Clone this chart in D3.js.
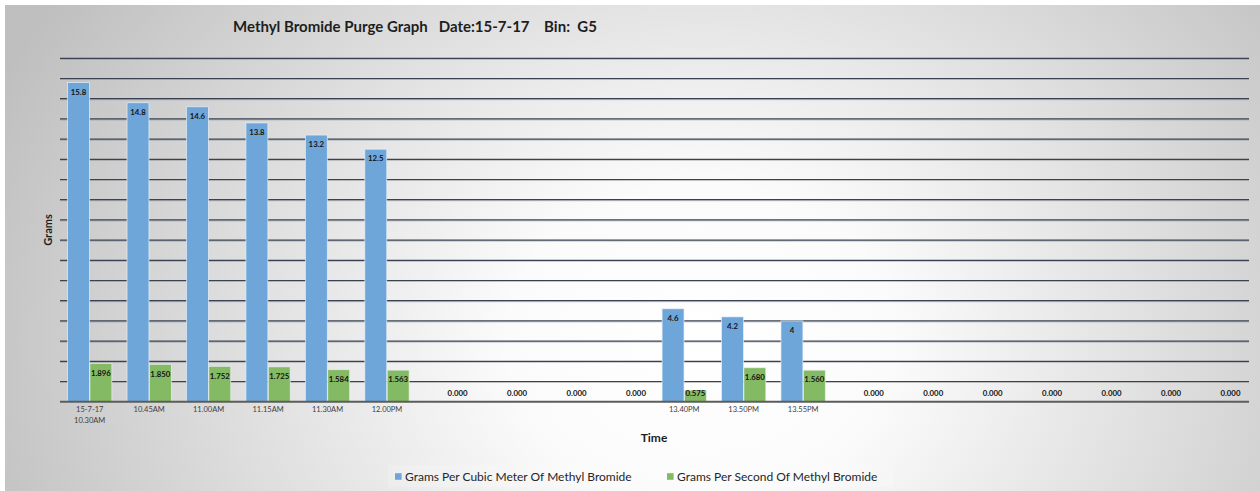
<!DOCTYPE html>
<html>
<head>
<meta charset="utf-8">
<script src="https://cdn.jsdelivr.net/npm/d3@7"></script>
<style>
  html, body { margin: 0; padding: 0; background: #fff; }
  text { font-family: Lato, 'Open Sans', sans-serif; }
</style>
</head>
<body>
<div id="chartDiv"></div>
<script>
// chart values
let categories = [
  'c0', 'c1', 'c2', 'c3', 'c4', 'c5', 'c6', 'c7', 'c8', 'c9',
  'c10', 'c11', 'c12', 'c13', 'c14', 'c15', 'c16', 'c17', 'c18', 'c19',
];
let tickLabels = [
  ['15-7-17', '10.30AM'], ['10.45AM'], ['11.00AM'], ['11.15AM'], ['11.30AM'], ['12.00PM'],
  [], [], [], [],
  ['13.40PM'], ['13.50PM'], ['13.55PM'],
  [], [], [], [], [], [], [],
];
let cubicMeterValues = [15.8, 14.8, 14.6, 13.8, 13.2, 12.5, 0, 0, 0, 0, 4.6, 4.2, 4, 0, 0, 0, 0, 0, 0, 0];
let perSecondValues = [1.896, 1.85, 1.752, 1.725, 1.584, 1.563, 0, 0, 0, 0, 0.575, 1.68, 1.56, 0, 0, 0, 0, 0, 0, 0];
let seriesNames = ['Grams Per Cubic Meter Of Methyl Bromide', 'Grams Per Second Of Methyl Bromide'];
let yTicks = [1, 2, 3, 4, 5, 6, 7, 8, 9, 10, 11, 12, 13, 14, 15, 16, 17];

let titleText = 'Methyl Bromide Purge Graph   Date:15-7-17    Bin:  G5';
let yAxisLabel = 'Grams';
let xAxisLabel = 'Time';
let seriesColors = ['#6fa6d9', '#83ba63'];

let width = 1260,
  height = 491;
let plot = { left: 60, right: 1249, top: 58.3, bottom: 401.7 };

let svg = d3
  .select('#chartDiv')
  .append('svg')
  .attr('width', width)
  .attr('height', height)
  .attr('viewBox', [0, 0, width, height]);

// background gradient (elliptical, light in the middle)
let defs = svg.append('defs');
let grad = defs
  .append('radialGradient')
  .attr('id', 'bgGrad')
  .attr('gradientUnits', 'userSpaceOnUse')
  .attr('cx', 700)
  .attr('cy', 340)
  .attr('r', 770)
  .attr('gradientTransform', 'translate(700,340) scale(1,0.8) translate(-700,-340)');
grad.append('stop').attr('offset', 0).attr('stop-color', '#ffffff');
grad.append('stop').attr('offset', 0.25).attr('stop-color', '#fbfbfb');
grad.append('stop').attr('offset', 1).attr('stop-color', '#bfbfbf');

svg.append('rect').attr('width', width).attr('height', height).attr('fill', '#fff');
svg
  .append('rect')
  .attr('x', 5)
  .attr('y', 5)
  .attr('width', width - 5)
  .attr('height', height - 5)
  .attr('fill', 'url(#bgGrad)');

// scales
let x = d3
  .scaleBand()
  .domain(categories)
  .range([plot.left, plot.right])
  .paddingInner(0.255)
  .paddingOuter(0.1275);

let xSub = d3.scaleBand().domain([0, 1]).range([0, x.bandwidth()]).paddingInner(0.02);

let y = d3.scaleLinear().domain([0, 17]).range([plot.bottom, plot.top]);

// grid lines
let grid = svg.append('g').attr('class', 'grid');
grid
  .selectAll('line.shadow')
  .data(yTicks)
  .join('line')
  .attr('class', 'shadow')
  .attr('x1', plot.left)
  .attr('x2', plot.right)
  .attr('y1', (d) => y(d) + 1)
  .attr('y2', (d) => y(d) + 1)
  .attr('stroke', 'rgba(90,95,105,0.35)')
  .attr('stroke-width', 1);
grid
  .selectAll('line.main')
  .data(yTicks)
  .join('line')
  .attr('class', 'main')
  .attr('x1', plot.left)
  .attr('x2', plot.right)
  .attr('y1', (d) => y(d))
  .attr('y2', (d) => y(d))
  .attr('stroke', '#3a4252')
  .attr('stroke-width', 1.2);

// bars
let groups = svg
  .append('g')
  .attr('class', 'bars')
  .selectAll('g')
  .data(categories)
  .join('g')
  .attr('transform', (d) => `translate(${x(d)},0)`);

let barData = (d, i) => [
  { s: 0, v: cubicMeterValues[i] },
  { s: 1, v: perSecondValues[i] },
];

groups
  .selectAll('rect')
  .data(barData)
  .join('rect')
  .attr('x', (d) => xSub(d.s))
  .attr('width', xSub.bandwidth())
  .attr('y', (d) => y(d.v))
  .attr('height', (d) => y(0) - y(d.v))
  .attr('fill', (d) => seriesColors[d.s])
  .attr('stroke', 'rgba(235,242,250,0.8)')
  .attr('stroke-width', (d) => (d.v > 0 ? 0.8 : 0));

// bar value labels
groups
  .selectAll('text')
  .data((d, i) => barData(d, i).filter((b) => b.s === 1 || b.v > 0))
  .join('text')
  .attr('x', (d) => xSub(d.s) + xSub.bandwidth() / 2)
  .attr('y', (d) => Math.min(y(d.v) + 9.5, y(0) - 8))
  .attr('dy', '0.35em')
  .attr('text-anchor', 'middle')
  .attr('font-size', 7.8)
  .attr('font-weight', 'bold')
  .attr('fill', '#141414')
  .text((d) => (d.s === 1 ? d.v.toFixed(3) : String(d.v)));

// x axis baseline
svg
  .append('line')
  .attr('x1', plot.left)
  .attr('x2', plot.right)
  .attr('y1', y(0))
  .attr('y2', y(0))
  .attr('stroke', '#5c5c5c')
  .attr('stroke-width', 2);

// x tick labels
let xAxis = svg
  .append('g')
  .attr('class', 'x-axis')
  .attr('transform', `translate(0,${y(0)})`)
  .call(d3.axisBottom(x).tickSize(0).tickFormat(''));
xAxis.select('.domain').remove();
xAxis
  .selectAll('.tick')
  .data(categories)
  .each(function (d, i) {
    d3.select(this)
      .selectAll('text.lbl')
      .data(tickLabels[i])
      .join('text')
      .attr('class', 'lbl')
      .attr('x', 0)
      .attr('y', (t, j) => 10.5 + j * 11)
      .attr('text-anchor', 'middle')
      .attr('font-size', 7.5)
      .attr('fill', '#404040')
      .text((t) => t);
  });

// titles
svg
  .append('text')
  .attr('x', 233)
  .attr('y', 27)
  .attr('dy', '0.35em')
  .attr('font-size', 15)
  .attr('font-weight', 'bold')
  .attr('fill', '#1e1e1e')
  .style('white-space', 'pre')
  .text(titleText);

svg
  .append('text')
  .attr('transform', 'translate(48,230) rotate(-90)')
  .attr('text-anchor', 'middle')
  .attr('dy', '0.35em')
  .attr('font-size', 11)
  .attr('font-weight', 'bold')
  .attr('fill', '#1e1e1e')
  .text(yAxisLabel);

svg
  .append('text')
  .attr('x', 654)
  .attr('y', 438)
  .attr('dy', '0.35em')
  .attr('text-anchor', 'middle')
  .attr('font-size', 12)
  .attr('font-weight', 'bold')
  .attr('fill', '#1e1e1e')
  .text(xAxisLabel);

// legend
let legendX = [395, 667];
let legend = svg.append('g').attr('class', 'legend');
legend
  .append('rect')
  .attr('x', 388)
  .attr('y', 465)
  .attr('width', 505)
  .attr('height', 22)
  .attr('fill', 'rgba(255,255,255,0.18)');
let items = legend
  .selectAll('g')
  .data(seriesNames)
  .join('g')
  .attr('transform', (d, i) => `translate(${legendX[i]},476.5)`);
items
  .append('rect')
  .attr('x', 0)
  .attr('y', -3.3)
  .attr('width', 6.6)
  .attr('height', 6.6)
  .attr('fill', (d, i) => seriesColors[i]);
items
  .append('text')
  .attr('x', 10)
  .attr('dy', '0.35em')
  .attr('font-size', 12)
  .attr('fill', '#262626')
  .text((d) => d);
</script>
</body>
</html>
